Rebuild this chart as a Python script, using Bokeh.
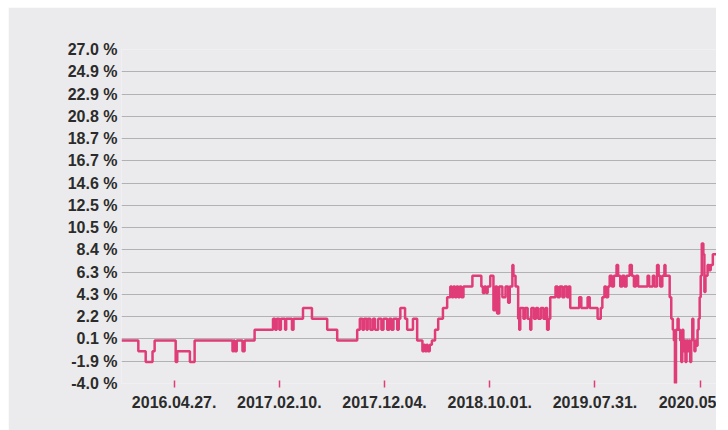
from bokeh.plotting import figure
from bokeh.models import Range1d, PrintfTickFormatter, Spacer
from bokeh.layouts import column, row
from bokeh.embed import file_html
from bokeh.resources import INLINE

# trading-day index at which the value changes, and the value (%) from that day on
chg_idx = [0, 32, 46, 59, 63, 103, 106, 130, 139, 211, 213, 215, 219, 230, 234, 253,
           288, 292, 295, 300, 303, 311, 313, 324, 327, 345, 362, 391, 410, 448,
           453, 458, 461, 466, 468, 473, 478, 482, 488, 494, 498, 505, 509, 513, 517, 524, 527,
           530, 539, 543, 554, 562, 572, 575, 577, 580, 582, 586, 590, 596, 602, 611, 619,
           625, 628, 631, 634, 637, 640, 643, 646, 650, 667, 684, 687, 690, 693, 696, 701,
           707, 711, 714, 718, 724, 730, 735, 738, 743, 745, 749, 754, 756, 758, 764, 767,
           772, 777, 779, 784, 788, 792, 797, 802, 806, 809, 812, 815, 825, 829, 833, 838,
           842, 847, 850, 853, 870, 874, 886, 890, 905, 911, 914, 918, 921, 925, 928, 932,
           936, 941, 944, 948, 952, 956, 960, 966, 970, 974, 978, 982, 1000, 1003, 1010,
           1013, 1018, 1021, 1024, 1028, 1032, 1034, 1042, 1045, 1048, 1050, 1052, 1054,
           1057, 1059, 1062, 1064, 1066, 1068, 1070, 1072, 1074, 1077, 1079, 1081, 1083,
           1085, 1087, 1089, 1091, 1093, 1095, 1097, 1099, 1101, 1103, 1106, 1108, 1110,
           1114, 1117, 1120, 1124, 1131]
chg_val = [0.0, -1.0, -2.0, -1.0, 0.0, -2.0, -1.0, -2.0, 0.0, -1.0, 0.0, -1.0, 0.0, -1.0, 0.0, 1.0,
           2.0, 1.0, 2.0, 1.0, 2.0, 1.0, 2.0, 1.0, 2.0, 3.0, 2.0, 1.0, 0.0, 1.0,
           2.0, 1.0, 2.0, 1.0, 2.0, 1.0, 2.0, 1.0, 2.0, 1.0, 2.0, 1.0, 2.0, 1.0, 2.0, 1.0, 2.0,
           3.0, 2.0, 1.0, 2.0, 0.0, -1.0, -0.4, -1.0, -0.4, -1.0, -0.4, 0.0, 1.0, 2.0, 3.0, 4.0,
           5.0, 4.0, 5.0, 4.0, 5.0, 4.0, 5.0, 4.0, 5.0, 6.0, 5.0, 4.4, 5.0, 4.4, 5.0, 6.0,
           2.8, 5.0, 2.5, 5.0, 4.0, 5.0, 3.5, 5.0, 7.0, 6.0, 5.0, 2.0, 1.0, 3.0, 2.0, 3.0,
           2.0, 1.0, 3.0, 2.0, 3.0, 2.0, 3.0, 2.0, 3.0, 1.0, 2.0, 4.0, 5.0, 4.0, 5.0, 4.0,
           5.0, 4.0, 5.0, 3.0, 4.0, 3.0, 4.0, 3.0, 2.0, 3.0, 4.0, 5.0, 4.0, 5.0, 6.0, 5.0,
           6.0, 7.0, 6.0, 5.0, 6.0, 5.0, 6.0, 7.0, 6.0, 5.0, 6.0, 5.0, 6.0, 5.0, 6.0,
           5.0, 7.0, 6.0, 5.0, 6.0, 7.0, 6.0, 4.0, 2.0, 1.0, 0.0, -4.0, 1.0,
           2.0, 1.0, 0.0, -2.0, 1.0, -1.0, 0.0, -2.0, 0.0, -1.0, 0.0, -2.0, 0.0,
           2.0, 0.0, -1.0, 0.0, -0.5, 1.0, 2.0, 4.0, 6.0, 9.0, 8.0, 4.5, 6.0,
           7.0, 6.5, 7.0, 8.0, 8.0]

x_ticks = [100, 300, 500, 700, 900, 1100]
x_labels = ["2016.04.27.", "2017.02.10.", "2017.12.04.", "2018.10.01.", "2019.07.31.", "2020.05"]
y_ticks = [-4.0, -1.9333, 0.1333, 2.2, 4.2667, 6.3333, 8.4, 10.4667, 12.5333, 14.6,
           16.6667, 18.7333, 20.8, 22.8667, 24.9333, 27.0]

BG = "#ebebed"
PINK = "#e03c78"
TXT = "#2b2b2b"

p = figure(width=708, height=423, output_backend="svg", toolbar_location=None,
           x_range=Range1d(0, 1131), y_range=Range1d(-4.0, 27.0),
           min_border_left=113, min_border_right=0, min_border_top=42, min_border_bottom=47)
p.background_fill_color = BG
p.border_fill_color = BG
p.outline_line_color = None

p.xgrid.visible = False
p.ygrid.grid_line_color = "#b2b2b2"
p.ygrid.grid_line_width = 1.2

p.yaxis.ticker = y_ticks
p.yaxis.formatter = PrintfTickFormatter(format="%.1f %%")
p.yaxis.axis_line_color = None
p.yaxis.major_tick_line_color = None
p.yaxis.minor_tick_line_color = None
p.yaxis.major_tick_out = 0
p.yaxis.major_tick_in = 0
p.yaxis.major_label_standoff = 4

p.xaxis.ticker = x_ticks
p.xaxis.major_label_overrides = {t: l for t, l in zip(x_ticks, x_labels)}
p.xaxis.axis_line_color = None
p.xaxis.minor_tick_line_color = None
p.xaxis.major_tick_line_color = PINK
p.xaxis.major_tick_line_width = 1.5
p.xaxis.major_tick_in = 3
p.xaxis.major_tick_out = 4
p.xaxis.major_label_standoff = 8

for ax in (p.xaxis[0], p.yaxis[0]):
    ax.major_label_text_font = "Liberation Sans"
    ax.major_label_text_font_style = "bold"
    ax.major_label_text_font_size = "16px"
    ax.major_label_text_color = TXT

p.step(chg_idx, chg_val, mode="after", line_color=PINK, line_width=2.5)

layout = column(Spacer(width=716, height=7), row(Spacer(width=8, height=423), p))
open("out.html", "w").write(file_html(layout, INLINE))
